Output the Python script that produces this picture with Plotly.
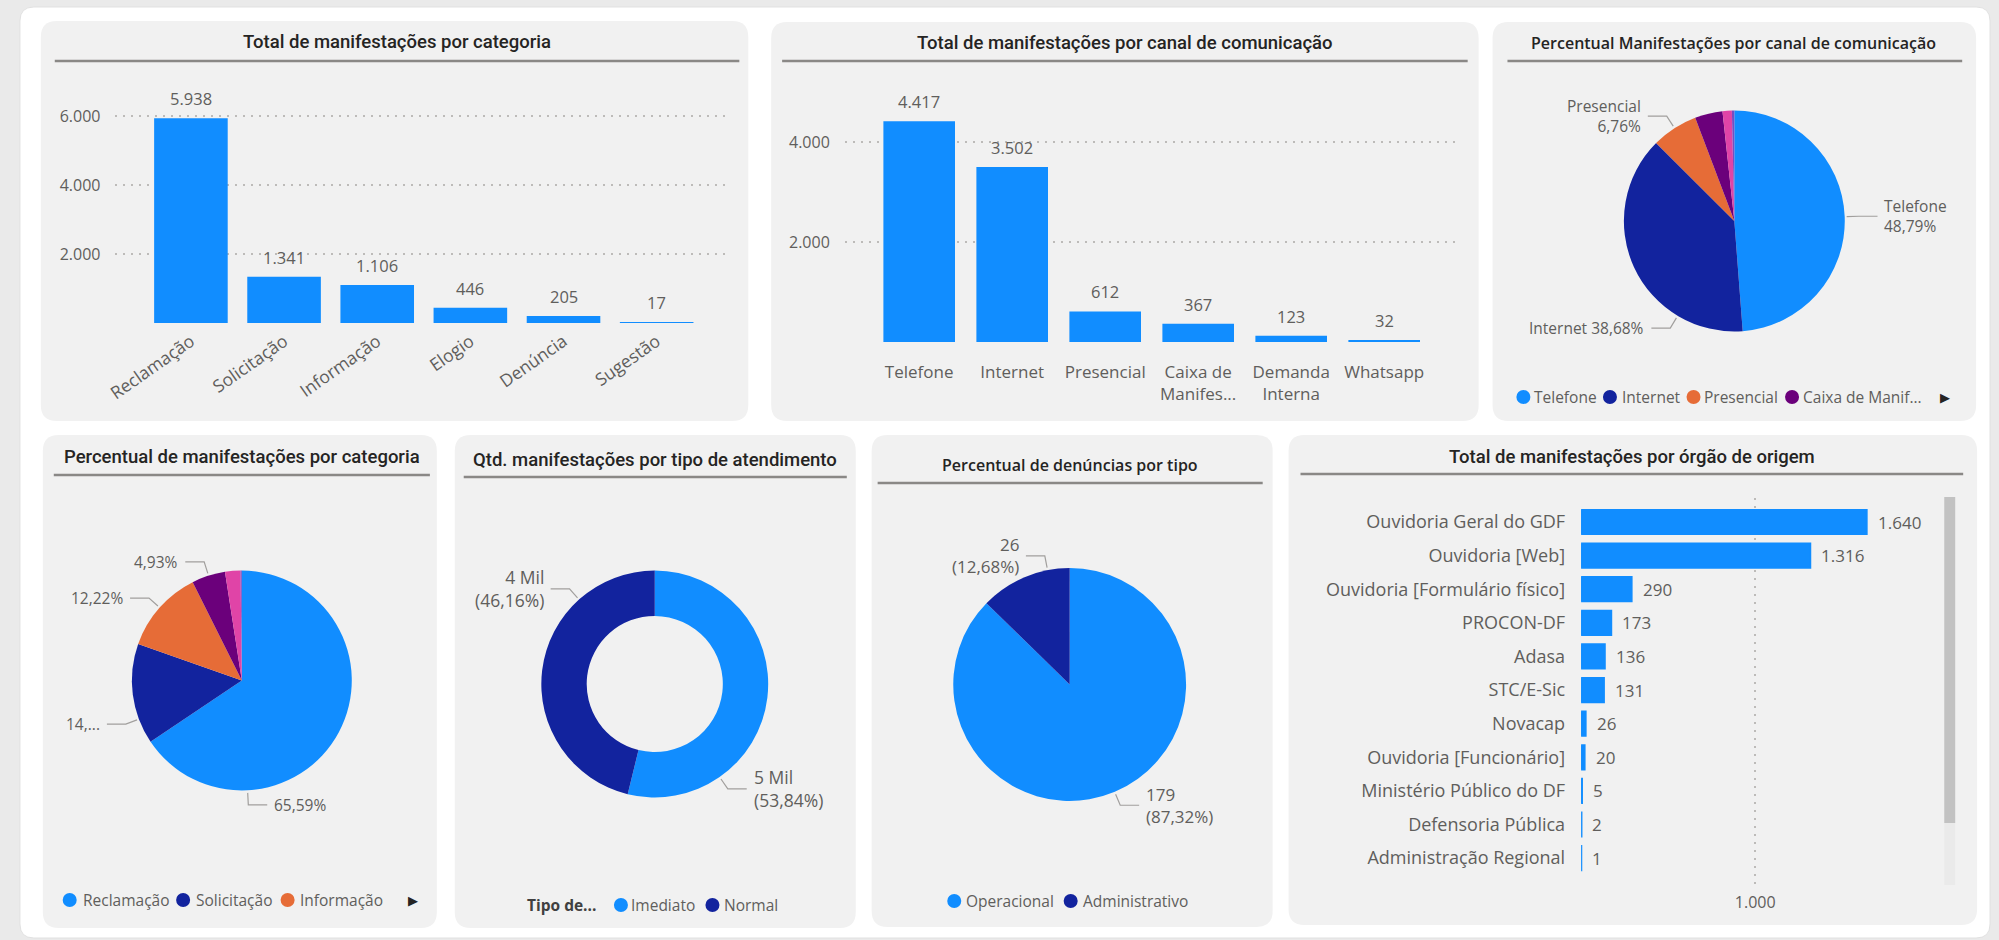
import math
import plotly.graph_objects as go

W, H = 1999, 940

# ---------------- data ----------------
categorias = ["Reclamação", "Solicitação", "Informação", "Elogio", "Denúncia", "Sugestão"]
qtd_categoria = [5938, 1341, 1106, 446, 205, 17]

canais = ["Telefone", "Internet", "Presencial", "Caixa de Manifestações", "Demanda Interna", "Whatsapp"]
canais_rotulos = ["Telefone", "Internet", "Presencial", "Caixa de<br>Manifes...", "Demanda<br>Interna", "Whatsapp"]
qtd_canal = [4417, 3502, 612, 367, 123, 32]

tipos_atendimento = ["Imediato", "Normal"]
qtd_atendimento = [4874, 4179]

tipos_denuncia = ["Operacional", "Administrativo"]
qtd_denuncia = [179, 26]

orgaos = ["Ouvidoria Geral do GDF", "Ouvidoria [Web]", "Ouvidoria [Formulário físico]", "PROCON-DF",
          "Adasa", "STC/E-Sic", "Novacap", "Ouvidoria [Funcionário]", "Ministério Público do DF",
          "Defensoria Pública", "Administração Regional"]
qtd_orgao = [1640, 1316, 290, 173, 136, 131, 26, 20, 5, 2, 1]

ticks_categoria = [0, 2000, 4000, 6000]
ticks_categoria_txt = ["", "2.000", "4.000", "6.000"]
ticks_canal = [0, 2000, 4000]
ticks_canal_txt = ["", "2.000", "4.000"]
ticks_orgao = [0, 1000]
ticks_orgao_txt = ["", "1.000"]

legenda_canal = ["Telefone", "Internet", "Presencial", "Caixa de Manif..."]
legenda_categoria = ["Reclamação", "Solicitação", "Informação"]

PALETA = ["#118DFF", "#12239E", "#E66C37", "#6B007B", "#E044A7", "#744EC2"]

# ---------------- style ----------------
FONT = "Open Sans"
TFONT = "Roboto"
GRAY = "#605E5C"
DARK = "#252423"
GRID = "#BDBBB9"
PANEL = "#F1F1F1"


def fmt_int(v):
    return f"{v:,}".replace(",", ".")


def fmt_pct(f):
    return f"{f * 100:.2f}".replace(".", ",") + "%"


def X(px):
    return px / W


def Y(py):
    return 1 - py / H


def pt(x, y):
    return f"{X(x):.6f},{Y(y):.6f}"


shapes = []
annotations = []


def rrect(x0, y0, x1, y1, r, fill, line=None):
    path = (f"M{pt(x0 + r, y0)} L{pt(x1 - r, y0)} Q{pt(x1, y0)} {pt(x1, y0 + r)} "
            f"L{pt(x1, y1 - r)} Q{pt(x1, y1)} {pt(x1 - r, y1)} L{pt(x0 + r, y1)} "
            f"Q{pt(x0, y1)} {pt(x0, y1 - r)} L{pt(x0, y0 + r)} Q{pt(x0, y0)} {pt(x0 + r, y0)} Z")
    shapes.append(dict(type="path", xref="paper", yref="paper", path=path, fillcolor=fill,
                       line=dict(color=line or "rgba(0,0,0,0)", width=1 if line else 0), layer="below"))


def titulo(cx, cy, texto, ux0, ux1, uy, family=TFONT, size=18.5, weight=500):
    annotations.append(dict(x=X(cx), y=Y(cy), xref="paper", yref="paper", text=texto, showarrow=False,
                            xanchor="center", yanchor="middle",
                            font=dict(family=family, size=size, color=DARK, weight=weight)))
    shapes.append(dict(type="line", xref="paper", yref="paper", x0=X(ux0), x1=X(ux1), y0=Y(uy), y1=Y(uy),
                       line=dict(color="#8A8886", width=2.5), layer="above"))


def legenda(itens, cores, cxs, txs, cy, size=15.5):
    for nome, cor, cx, tx in zip(itens, cores, cxs, txs):
        shapes.append(dict(type="circle", xref="paper", yref="paper", xsizemode="pixel", ysizemode="pixel",
                           xanchor=X(cx), yanchor=Y(cy), x0=-7, x1=7, y0=-7, y1=7,
                           fillcolor=cor, line=dict(width=0), layer="above"))
        annotations.append(dict(x=X(tx), y=Y(cy), xref="paper", yref="paper", text=nome, showarrow=False,
                                xanchor="left", yanchor="middle", borderpad=0,
                                font=dict(family=FONT, size=size, color=GRAY)))


def seta(cx, cy):
    annotations.append(dict(x=X(cx), y=Y(cy), xref="paper", yref="paper", text="▶", showarrow=False,
                            xanchor="center", yanchor="middle",
                            font=dict(family="DejaVu Sans", size=13, color=DARK)))


def rotulos_pizza(cx, cy, r, valores, textos, fixos, size):
    total = sum(valores)
    acum = 0
    for i, v in enumerate(valores):
        meio = 360 * (acum + v / 2) / total
        acum += v
        if textos[i] is None:
            continue
        a = math.radians(fixos.get(i, meio))
        s, c = math.sin(a), math.cos(a)
        x0, y0 = cx + (r + 2) * s, cy - (r + 2) * c
        x1, y1 = cx + (r + 14) * s, cy - (r + 14) * c
        lado = 1 if s >= 0 else -1
        x2 = x1 + lado * 19
        shapes.append(dict(type="path", xref="paper", yref="paper",
                           path=f"M{pt(x0, y0)} L{pt(x1, y1)} L{pt(x2, y1)}",
                           line=dict(color="#A19F9D", width=1.2), layer="above"))
        annotations.append(dict(x=X(x2 + lado * 5), y=Y(y1), xref="paper", yref="paper", text=textos[i],
                                showarrow=False, xanchor="left" if lado > 0 else "right", yanchor="middle",
                                align="left" if lado > 0 else "right",
                                font=dict(family=FONT, size=size, color=GRAY)))


def dominio(cx, cy, d):
    return dict(x=[X(cx - d / 2), X(cx + d / 2)], y=[Y(cy + d / 2), Y(cy - d / 2)])


# ---------------- background ----------------
rrect(10, 7, 1990, 938, 14, "#FFFFFF", "#E1E1E1")
paineis = [(31, 21, 742, 421), (765, 22, 1476, 421), (1490, 22, 1976, 421),
           (33, 435, 429, 928), (447, 435, 850, 928), (866, 435, 1269, 927), (1285, 435, 1977, 925)]
for p in paineis:
    rrect(*p, 16, PANEL)

fig = go.Figure()

# ---------------- P1: bars por categoria ----------------
fig.add_trace(go.Bar(x=categorias, y=qtd_categoria, marker=dict(color=PALETA[0], line=dict(width=0)),
                     width=0.79, xaxis="x", yaxis="y", hoverinfo="x+y"))
for c, v in zip(categorias, qtd_categoria):
    annotations.append(dict(x=c, y=v, xref="x", yref="y", text=fmt_int(v), showarrow=False,
                            yanchor="bottom", yshift=6, font=dict(family=FONT, size=16.5, color=GRAY)))

# ---------------- P2: bars por canal ----------------
fig.add_trace(go.Bar(x=canais, y=qtd_canal, marker=dict(color=PALETA[0], line=dict(width=0)),
                     width=0.77, xaxis="x2", yaxis="y2", hoverinfo="x+y"))
for c, v in zip(canais, qtd_canal):
    annotations.append(dict(x=c, y=v, xref="x2", yref="y2", text=fmt_int(v), showarrow=False,
                            yanchor="bottom", yshift=6, font=dict(family=FONT, size=16.5, color=GRAY)))

# ---------------- P7: bars por órgão ----------------
fig.add_trace(go.Bar(y=orgaos, x=qtd_orgao, orientation="h",
                     marker=dict(color=PALETA[0], line=dict(color=PALETA[0], width=2)),
                     width=0.72, xaxis="x3", yaxis="y3", hoverinfo="x+y"))
for c, v in zip(orgaos, qtd_orgao):
    annotations.append(dict(x=v, y=c, xref="x3", yref="y3", text=fmt_int(v), showarrow=False,
                            xanchor="left", xshift=9, font=dict(family=FONT, size=17, color=GRAY)))
# scrollbar
shapes.append(dict(type="rect", xref="paper", yref="paper", x0=X(1944), x1=X(1955), y0=Y(885), y1=Y(823),
                   fillcolor="#EAEAEA", line=dict(width=0), layer="below"))
shapes.append(dict(type="rect", xref="paper", yref="paper", x0=X(1944), x1=X(1955), y0=Y(823), y1=Y(497),
                   fillcolor="#C2C2C2", line=dict(width=0), layer="below"))

# ---------------- P3: pizza por canal ----------------
tot_canal = sum(qtd_canal)
fig.add_trace(go.Pie(values=qtd_canal, labels=canais, marker=dict(colors=PALETA, line=dict(width=0)),
                     sort=False, direction="clockwise", rotation=0, textinfo="none",
                     domain=dominio(1733, 221, 222), showlegend=False))
txt3 = [f"{canais[0]}<br>{fmt_pct(qtd_canal[0] / tot_canal)}",
        f"{canais[1]} {fmt_pct(qtd_canal[1] / tot_canal)}",
        f"{canais[2]}<br>{fmt_pct(qtd_canal[2] / tot_canal)}", None, None, None]
rotulos_pizza(1733, 221, 111, qtd_canal, txt3, {1: 211}, 15.5)
legenda(legenda_canal, PALETA[:4], [1521, 1608, 1692, 1791], [1531, 1619, 1702, 1801], 397)
seta(1945, 397)

# ---------------- P4: pizza por categoria ----------------
tot_cat = sum(qtd_categoria)
fig.add_trace(go.Pie(values=qtd_categoria, labels=categorias, marker=dict(colors=PALETA, line=dict(width=0)),
                     sort=False, direction="clockwise", rotation=0, textinfo="none",
                     domain=dominio(233, 680.5, 221), showlegend=False))
pcts4 = [fmt_pct(v / tot_cat) for v in qtd_categoria]
txt4 = [pcts4[0], pcts4[1][:3] + "...", pcts4[2], pcts4[3], None, None]
rotulos_pizza(233, 680.5, 110.5, qtd_categoria, txt4, {0: 177, 1: 249.5}, 15.5)
legenda(legenda_categoria, PALETA[:3], [60, 174, 279], [72, 186, 290], 900)
seta(405, 900)

# ---------------- P5: rosca por tipo de atendimento ----------------
tot_at = sum(qtd_atendimento)
fig.add_trace(go.Pie(values=qtd_atendimento, labels=tipos_atendimento, hole=0.6,
                     marker=dict(colors=PALETA[:2], line=dict(width=0)),
                     sort=False, direction="clockwise", rotation=0, textinfo="none",
                     domain=dominio(648, 684, 228), showlegend=False))
txt5 = [f"{round(v / 1000)} Mil<br>({fmt_pct(v / tot_at)})" for v in qtd_atendimento]
rotulos_pizza(648, 684, 114, qtd_atendimento, txt5, {0: 145, 1: 318}, 17.5)
annotations.append(dict(x=X(519), y=Y(905), xref="paper", yref="paper", text="<b>Tipo de...</b>",
                        showarrow=False, xanchor="left", yanchor="middle", borderpad=0,
                        font=dict(family=FONT, size=15.5, color="#404040")))
legenda(tipos_atendimento, PALETA[:2], [614, 706], [623, 717], 905)

# ---------------- P6: pizza por tipo de denúncia ----------------
tot_den = sum(qtd_denuncia)
fig.add_trace(go.Pie(values=qtd_denuncia, labels=tipos_denuncia,
                     marker=dict(colors=PALETA[:2], line=dict(width=0)),
                     sort=False, direction="clockwise", rotation=0, textinfo="none",
                     domain=dominio(1065, 684.5, 234), showlegend=False))
txt6 = [f"{v}<br>({fmt_pct(v / tot_den)})" for v in qtd_denuncia]
rotulos_pizza(1065, 684.5, 117, qtd_denuncia, txt6, {1: 349}, 17)
legenda(tipos_denuncia, PALETA[:2], [949, 1066], [960, 1077], 901)

# ---------------- titles ----------------
titulo(389, 42, "Total de manifestações por categoria", 45, 733, 61)
titulo(1121, 43, "Total de manifestações por canal de comunicação", 776, 1465, 61)
titulo(1732, 43, "Percentual Manifestações por canal de comunicação", 1505, 1962, 61,
       family=FONT, size=16, weight=600)
titulo(233, 457, "Percentual de manifestações por categoria", 44, 422, 475)
titulo(648, 460, "Qtd. manifestações por tipo de atendimento", 456, 841, 477)
titulo(1065, 465, "Percentual de denúncias por tipo", 872, 1259, 483, family=FONT, size=16, weight=600)
titulo(1630, 457, "Total de manifestações por órgão de origem", 1297, 1963, 474)

# ---------------- axes ----------------
tick_font = dict(family=FONT, size=16, color=GRAY)
eixo_val = dict(showgrid=True, gridcolor=GRID, griddash="2px,6px", gridwidth=1.5, zeroline=False,
                showline=False, ticks="", tickfont=tick_font, fixedrange=True)
eixo_cat = dict(showgrid=False, zeroline=False, showline=False, ticks="", tickfont=tick_font, fixedrange=True)

fig.update_layout(
    width=W, height=H, margin=dict(l=0, r=0, t=0, b=0),
    paper_bgcolor="#EAEAEA", plot_bgcolor="rgba(0,0,0,0)",
    separators=",.", showlegend=False, bargap=0.2,
    font=dict(family=FONT, color=GRAY),
    xaxis=dict(eixo_cat, domain=[X(106), X(722)], anchor="y", type="category",
               range=[-0.81, 5.77], tickangle=-35, ticklabelstandoff=4,
               tickfont=dict(family=FONT, size=17.5, color=GRAY)),
    yaxis=dict(eixo_val, domain=[Y(323), Y(99)], anchor="x", range=[0, 6500],
               tickvals=ticks_categoria, ticktext=ticks_categoria_txt, ticklabelstandoff=14),
    xaxis2=dict(eixo_cat, domain=[X(839), X(1454)], anchor="y2", type="category",
                range=[-0.80, 5.78], tickvals=canais, ticktext=canais_rotulos, ticklabelstandoff=18,
                tickfont=dict(family=FONT, size=17, color=GRAY)),
    yaxis2=dict(eixo_val, domain=[Y(342), Y(102)], anchor="x2", range=[0, 4800],
                tickvals=ticks_canal, ticktext=ticks_canal_txt, ticklabelstandoff=14),
    xaxis3=dict(eixo_val, domain=[X(1579), X(1929)], anchor="y3", range=[0, 2000],
                tickvals=ticks_orgao, ticktext=ticks_orgao_txt, ticklabelstandoff=6),
    yaxis3=dict(eixo_cat, domain=[Y(885), Y(498)], anchor="x3", type="category",
                range=[10.80, -0.714], tickfont=dict(family=FONT, size=18, color=GRAY),
                ticklabelstandoff=15),
    shapes=shapes, annotations=annotations,
)

fig.write_html("out.html", config={"displayModeBar": False},
               post_script="document.body.style.margin='0';document.body.style.overflow='hidden';")
